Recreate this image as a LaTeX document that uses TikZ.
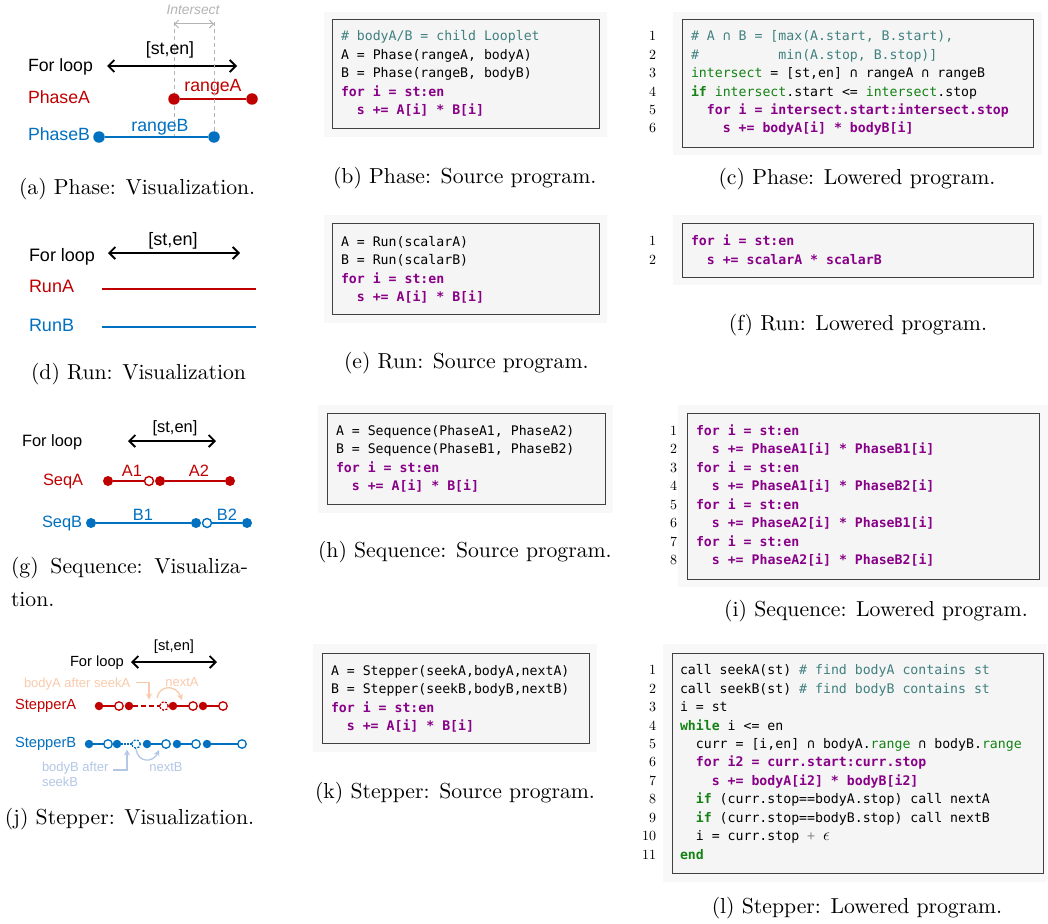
\documentclass[tikz,border=0pt]{standalone}
\usepackage{fontspec}
\newfontfamily\sansf{Liberation Sans}
\newfontfamily\capf{lmroman10-regular.otf}
\setmonofont{DejaVu Sans Mono}
\usetikzlibrary{arrows.meta}
\definecolor{kwc}{RGB}{136,0,136}
\definecolor{cmc}{RGB}{64,128,128}
\definecolor{grc}{RGB}{20,130,20}
\definecolor{myred}{RGB}{192,0,0}
\definecolor{myblue}{RGB}{0,112,192}
\definecolor{peach}{RGB}{248,203,173}
\definecolor{ltblue}{RGB}{180,199,231}
\definecolor{igray}{RGB}{180,180,180}
\definecolor{boxout}{RGB}{248,248,248}
\definecolor{boxin}{RGB}{245,245,245}
\newcommand\kw[1]{\textcolor{kwc}{\bfseries #1}}
\newcommand\cmt[1]{\textcolor{cmc}{#1}}
\newcommand\gn[1]{\textcolor{grc}{#1}}
\newcommand\gnb[1]{\textcolor{grc}{\bfseries #1}}
\newcommand\cind[1]{\hspace*{#1\fontcharwd\font`0}}
\begin{document}
\begin{tikzpicture}[x=1pt,y=-1pt,
  every node/.style={inner sep=0pt, outer sep=0pt},
  code/.style={anchor=base west, font=\ttfamily\fontsize{13.2}{16}\selectfont},
  lnum/.style={anchor=base east, font=\capf\fontsize{14}{16}\selectfont},
  captl/.style={anchor=base west, font=\capf\fontsize{21.7}{26}\selectfont},
  captc/.style={anchor=base, font=\capf\fontsize{21.7}{26}\selectfont},
  ta/.style={anchor=base west, font=\sansf\fontsize{17.7}{20}\selectfont},
  td/.style={anchor=base west, font=\sansf\fontsize{18}{20}\selectfont},
  tg/.style={anchor=base west, font=\sansf\fontsize{16.4}{19}\selectfont},
  tj/.style={anchor=base west, font=\sansf\fontsize{14.7}{17}\selectfont},
  tjs/.style={anchor=base west, font=\sansf\fontsize{13}{15}\selectfont},
  larrow/.style={line width=1.8pt, {Straight Barb[length=6pt,width=12pt]}-{Straight Barb[length=6pt,width=12pt]}},
  garrow/.style={igray, line width=1pt, {Straight Barb[length=4pt,width=8pt]}-{Straight Barb[length=4pt,width=8pt]}},
  fda/.style={circle, fill=#1, minimum size=11.5pt},
  fdg/.style={circle, fill=#1, minimum size=10pt},
  odg/.style={circle, draw=#1, fill=white, line width=1.4pt, minimum size=9pt},
  fdj/.style={circle, fill=#1, minimum size=8.5pt},
  odj/.style={circle, draw=#1, fill=white, line width=1.3pt, minimum size=8.5pt},
  boxo/.style={fill=boxout},
  boxi/.style={fill=boxin, draw=black!75, line width=0.9pt},
  parrow/.style={line width=1.3pt, -{Stealth[length=6pt,width=6pt]}}
]
\useasboundingbox (0,0) rectangle (1048,923);
\fill[white] (0,0) rectangle (1048,923);

% ================= (a) Phase visualization =================
\coordinate (ia1) at (174,22); \coordinate (ia2) at (174,137);
\coordinate (ib1) at (214,22);
\draw[igray, line width=0.8pt, dash pattern=on 4pt off 3pt] (ia1) -- (ia2);
\coordinate (ga1) at (174,24); \coordinate (ga2) at (214,24);
\draw[garrow] (ga1) -- (ga2);
\node[anchor=base, font=\sansf\itshape\fontsize{13.8}{16}\selectfont, text=igray] (isect) at (193,15) {Intersect};
\node[ta] (fla) at (28,71.5) {For loop};
\node[ta, anchor=base] (stena) at (170,55) {[st,en]};
\coordinate (ala) at (107,66); \coordinate (alb) at (237,66);
\draw[larrow] (ala) -- (alb);
\node[ta, text=myred] (pha) at (28,103) {PhaseA};
\node[ta, text=myblue] (phb) at (28,140.5) {PhaseB};
\node[fda=myred] (ra1) at (174,99) {};
\node[fda=myred] (ra2) at (252,99) {};
\draw[myred, line width=2pt] (ra1) -- (ra2);
\node[ta, anchor=base, text=myred] (rat) at (213,92) {rangeA};
\node[fda=myblue] (rb1) at (99,137) {};
\node[fda=myblue] (rb2) at (214,137) {};
\draw[igray, line width=0.8pt, dash pattern=on 4pt off 3pt] (ib1) -- (rb2);
\draw[myblue, line width=2pt] (rb1) -- (rb2);
\node[ta, anchor=base, text=myblue] (rbt) at (160,131) {rangeB};
\node[captl] (capa) at (19,194.5) {(a) Phase: Visualization.};

% ================= (d) Run visualization =================
\node[td] (fld) at (29,261) {For loop};
\node[td, anchor=base] (stend) at (173,245) {[st,en]};
\coordinate (ald) at (108,253); \coordinate (bld) at (240,253);
\draw[larrow] (ald) -- (bld);
\node[td, text=myred] (runa) at (29,292.7) {RunA};
\node[td, text=myblue] (runb) at (29,331.7) {RunB};
\coordinate (rda1) at (102,289); \coordinate (rda2) at (256,289);
\coordinate (rdb1) at (102,327); \coordinate (rdb2) at (256,327);
\draw[myred, line width=2pt] (rda1) -- (rda2);
\draw[myblue, line width=2pt] (rdb1) -- (rdb2);
\node[captl] (capd) at (31,379.6) {(d) Run: Visualization};

% ================= (g) Sequence visualization =================
\node[tg] (flg) at (22,446) {For loop};
\node[tg, anchor=base] (steng) at (175,432.7) {[st,en]};
\coordinate (alg) at (128,441); \coordinate (blg) at (216,441);
\draw[larrow] (alg) -- (blg);
\node[tg, text=myred] (seqa) at (43,485) {SeqA};
\node[tg, text=myblue] (seqb) at (42,527) {SeqB};
\node[fdg=myred] (sqa1) at (108,481) {};
\node[odg=myred] (sqa2) at (149,481) {};
\node[fdg=myred] (sqa3) at (160,481) {};
\node[fdg=myred] (sqa4) at (230,481) {};
\draw[myred, line width=1.8pt] (sqa1) -- (sqa2);
\draw[myred, line width=1.8pt] (sqa3) -- (sqa4);
\node[tg, anchor=base, text=myred] (a1t) at (132,476.7) {A1};
\node[tg, anchor=base, text=myred] (a2t) at (199,476.7) {A2};
\node[fdg=myblue] (sqb1) at (91,523) {};
\node[fdg=myblue] (sqb2) at (196,523) {};
\node[odg=myblue] (sqb3) at (207,523) {};
\node[fdg=myblue] (sqb4) at (247,523) {};
\draw[myblue, line width=1.8pt] (sqb1) -- (sqb2);
\draw[myblue, line width=1.8pt] (sqb3) -- (sqb4);
\node[tg, anchor=base, text=myblue] (b1t) at (143,520) {B1};
\node[tg, anchor=base, text=myblue] (b2t) at (227,520) {B2};
\node[captl] (capg) at (11,573) {\hbox to 237pt{(g)\hfil Sequence:\hfil Visualiza-}};
\node[captl] (capg2) at (11,606.7) {tion.};

% ================= (j) Stepper visualization =================
\node[tj] (flj) at (70,666.5) {For loop};
\node[tj, anchor=base] (stenj) at (174,650.7) {[st,en]};
\coordinate (alj) at (131,662); \coordinate (blj) at (217,662);
\draw[larrow] (alj) -- (blj);
\node[tjs, text=peach] (baft) at (24,687.8) {bodyA after seekA};
\node[tjs, anchor=base, text=peach] (nexta) at (182,686) {nextA};
\node[tj, text=myred] (stpa) at (15,709) {StepperA};
\node[tj, text=myblue] (stpb) at (15,747.5) {StepperB};
% Stepper A
\node[fdj=myred] (sa1) at (99,706) {};
\node[odj=myred] (sa2) at (119,706) {};
\node[fdj=myred] (sa3) at (129,706) {};
\node[odj=myred, dash pattern=on 2pt off 1.5pt] (sa4) at (164,706) {};
\node[fdj=myred] (sa5) at (173,706) {};
\node[odj=myred] (sa6) at (193,706) {};
\node[fdj=myred] (sa7) at (203,706) {};
\node[odj=myred] (sa8) at (223,706) {};
\draw[myred, line width=1.5pt] (sa1) -- (sa2);
\draw[myred, line width=1.5pt, dash pattern=on 5pt off 3pt] (sa3) -- (sa4);
\draw[myred, line width=1.5pt] (sa5) -- (sa6);
\draw[myred, line width=1.5pt] (sa7) -- (sa8);
% Stepper B
\node[fdj=myblue] (sb1) at (89,744) {};
\node[odj=myblue] (sb2) at (108,744) {};
\node[fdj=myblue] (sb3) at (117,744) {};
\node[odj=myblue, dash pattern=on 2pt off 1.5pt] (sb4) at (136,744) {};
\node[fdj=myblue] (sb5) at (147,744) {};
\node[odj=myblue] (sb6) at (166,744) {};
\node[fdj=myblue] (sb7) at (177,744) {};
\node[odj=myblue] (sb8) at (196,744) {};
\node[fdj=myblue] (sb9) at (207,744) {};
\node[odj=myblue] (sb10) at (242,744) {};
\draw[myblue, line width=1.5pt] (sb1) -- (sb2);
\draw[myblue, line width=1.5pt, dash pattern=on 1.5pt off 1.5pt] (sb3) -- (sb4);
\draw[myblue, line width=1.5pt] (sb5) -- (sb6);
\draw[myblue, line width=1.5pt] (sb7) -- (sb8);
\draw[myblue, line width=1.5pt] (sb9) -- (sb10);
% annotations
\coordinate (pa0) at (136,682.5); \coordinate (pa1) at (149,682.5); \coordinate (pa2) at (149,699.5);
\draw[peach, parrow] (pa0) -- (pa1) -- (pa2);
\coordinate (na0) at (157,698); \coordinate (na3) at (182,700);
\draw[peach, parrow] (na0) .. controls (159,685) and (176,684) .. (na3);
\node[tjs, text=ltblue] (bbft) at (42,771.2) {bodyB after};
\node[tjs, text=ltblue] (bbft2) at (42,786) {seekB};
\node[tjs, anchor=base, text=ltblue] (nextb) at (166,771) {nextB};
\coordinate (pb0) at (113,770); \coordinate (pb1) at (127,770); \coordinate (pb2) at (127,749.5);
\draw[ltblue, parrow] (pb0) -- (pb1) -- (pb2);
\coordinate (nb0) at (136,749); \coordinate (nb3) at (159,750);
\draw[ltblue, parrow] (nb0) .. controls (138,763) and (153,763) .. (nb3);
\node[captl] (capj) at (5,824.6) {(j) Stepper: Visualization.};

% ================= code boxes =================
% (b)
\fill[boxo] (324,12) rectangle (607,137);
\filldraw[boxi] (332,19) rectangle (599,128);
\node[code] (b1) at (341,40.7) {\cmt{\# bodyA/B = child Looplet}};
\node[code] (b2) at (341,59.15) {A = Phase(rangeA, bodyA)};
\node[code] (b3) at (341,77.6) {B = Phase(rangeB, bodyB)};
\node[code] (b4) at (341,96.05) {\kw{for i = st:en}};
\node[code] (b5) at (341,114.5) {\kw{\cind{2}s += A[i] * B[i]}};
\node[captl] (capb) at (333,183) {(b) Phase: Source program.};

% (c)
\fill[boxo] (673,12) rectangle (1042,155);
\filldraw[boxi] (682,19) rectangle (1033,147);
\node[code] (c1) at (691,40.7) {\cmt{\# A ∩ B = [max(A.start, B.start),}};
\node[code] (c2) at (691,59.15) {\cmt{\#\cind{10}min(A.stop, B.stop)]}};
\node[code] (c3) at (691,77.6) {\gn{intersect} = [st,en] ∩ rangeA ∩ rangeB};
\node[code] (c4) at (691,96.05) {\gnb{if} \gn{intersect}.start <= \gn{intersect}.stop};
\node[code] (c5) at (691,114.5) {\kw{\cind{2}for i = intersect.start:intersect.stop}};
\node[code] (c6) at (691,132.95) {\kw{\cind{4}s += bodyA[i] * bodyB[i]}};
\node[lnum] (cn1) at (656,40.7) {1};
\node[lnum] (cn2) at (656,59.15) {2};
\node[lnum] (cn3) at (656,77.6) {3};
\node[lnum] (cn4) at (656,96.05) {4};
\node[lnum] (cn5) at (656,114.5) {5};
\node[lnum] (cn6) at (656,132.95) {6};
\node[captc] (capc) at (857,184) {(c) Phase: Lowered program.};

% (e)
\fill[boxo] (324,215) rectangle (607,323);
\filldraw[boxi] (332,223) rectangle (599,314);
\node[code] (e1) at (341,246.5) {A = Run(scalarA)};
\node[code] (e2) at (341,264.95) {B = Run(scalarB)};
\node[code] (e3) at (341,283.4) {\kw{for i = st:en}};
\node[code] (e4) at (341,301.85) {\kw{\cind{2}s += A[i] * B[i]}};
\node[captl] (cape) at (344,368) {(e) Run: Source program.};

% (f)
\fill[boxo] (673,215) rectangle (1042,285);
\filldraw[boxi] (682,223) rectangle (1033,277);
\node[code] (f1) at (691,245.8) {\kw{for i = st:en}};
\node[code] (f2) at (691,264.25) {\kw{\cind{2}s += scalarA * scalarB}};
\node[lnum] (fn1) at (656,245.8) {1};
\node[lnum] (fn2) at (656,264.25) {2};
\node[captc] (capf) at (858,330) {(f) Run: Lowered program.};

% (h)
\fill[boxo] (318,405) rectangle (613,513);
\filldraw[boxi] (327,413) rectangle (605,504);
\node[code] (h1) at (336,435.5) {A = Sequence(PhaseA1, PhaseA2)};
\node[code] (h2) at (336,453.95) {B = Sequence(PhaseB1, PhaseB2)};
\node[code] (h3) at (336,472.4) {\kw{for i = st:en}};
\node[code] (h4) at (336,490.85) {\kw{\cind{2}s += A[i] * B[i]}};
\node[captl] (caph) at (318,557) {(h) Sequence: Source program.};

% (i)
\fill[boxo] (678,405) rectangle (1048,587);
\filldraw[boxi] (687,413) rectangle (1039,579);
\node[code] (i1) at (696,435.5) {\kw{for i = st:en}};
\node[code] (i2) at (696,453.95) {\kw{\cind{2}s += PhaseA1[i] * PhaseB1[i]}};
\node[code] (i3) at (696,472.4) {\kw{for i = st:en}};
\node[code] (i4) at (696,490.85) {\kw{\cind{2}s += PhaseA1[i] * PhaseB2[i]}};
\node[code] (i5) at (696,509.3) {\kw{for i = st:en}};
\node[code] (i6) at (696,527.75) {\kw{\cind{2}s += PhaseA2[i] * PhaseB1[i]}};
\node[code] (i7) at (696,546.2) {\kw{for i = st:en}};
\node[code] (i8) at (696,564.65) {\kw{\cind{2}s += PhaseA2[i] * PhaseB2[i]}};
\node[lnum] (in1) at (677,435.5) {1};
\node[lnum] (in2) at (677,453.95) {2};
\node[lnum] (in3) at (677,472.4) {3};
\node[lnum] (in4) at (677,490.85) {4};
\node[lnum] (in5) at (677,509.3) {5};
\node[lnum] (in6) at (677,527.75) {6};
\node[lnum] (in7) at (677,546.2) {7};
\node[lnum] (in8) at (677,564.65) {8};
\node[captc] (capi) at (876,616) {(i) Sequence: Lowered program.};

% (k)
\fill[boxo] (313,644) rectangle (597,752);
\filldraw[boxi] (322,653) rectangle (589,743);
\node[code] (k1) at (331,675.5) {A = Stepper(seekA,bodyA,nextA)};
\node[code] (k2) at (331,693.95) {B = Stepper(seekB,bodyB,nextB)};
\node[code] (k3) at (331,712.4) {\kw{for i = st:en}};
\node[code] (k4) at (331,730.85) {\kw{\cind{2}s += A[i] * B[i]}};
\node[captl] (capk) at (315,798) {(k) Stepper: Source program.};

% (l)
\fill[boxo] (663,644) rectangle (1047,882);
\filldraw[boxi] (672,653) rectangle (1043,873);
\node[code] (l1) at (680,674.7) {call seekA(st) \cmt{\# find bodyA contains st}};
\node[code] (l2) at (680,693.15) {call seekB(st) \cmt{\# find bodyB contains st}};
\node[code] (l3) at (680,711.6) {i = st};
\node[code] (l4) at (680,730.05) {\gnb{while} i <= en};
\node[code] (l5) at (680,748.5) {\cind{2}curr = [i,en] ∩ bodyA.\gn{range} ∩ bodyB.\gn{range}};
\node[code] (l6) at (680,766.95) {\kw{\cind{2}for i2 = curr.start:curr.stop}};
\node[code] (l7) at (680,785.4) {\kw{\cind{4}s += bodyA[i2] * bodyB[i2]}};
\node[code] (l8) at (680,803.85) {\cind{2}\gnb{if} (curr.stop==bodyA.stop) call nextA};
\node[code] (l9) at (680,822.3) {\cind{2}\gnb{if} (curr.stop==bodyB.stop) call nextB};
\node[code] (l10) at (680,840.75) {\cind{2}i = curr.stop \textcolor{black!45}{+} {\fontsize{19}{20}\selectfont$\epsilon$}};
\node[code] (l11) at (680,859.2) {\gnb{end}};
\node[lnum] (ln1) at (656,674.7) {1};
\node[lnum] (ln2) at (656,693.15) {2};
\node[lnum] (ln3) at (656,711.6) {3};
\node[lnum] (ln4) at (656,730.05) {4};
\node[lnum] (ln5) at (656,748.5) {5};
\node[lnum] (ln6) at (656,766.95) {6};
\node[lnum] (ln7) at (656,785.4) {7};
\node[lnum] (ln8) at (656,803.85) {8};
\node[lnum] (ln9) at (656,822.3) {9};
\node[lnum] (ln10) at (656,840.75) {10};
\node[lnum] (ln11) at (656,859.2) {11};
\node[captc] (capl) at (857,913) {(l) Stepper: Lowered program.};
\end{tikzpicture}
\end{document}
